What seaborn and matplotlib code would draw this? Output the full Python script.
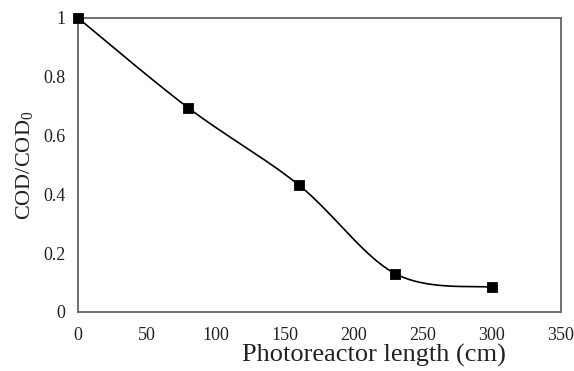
import numpy as np
import pandas as pd
import matplotlib
matplotlib.use("Agg")
import matplotlib.pyplot as plt
import seaborn as sns

# Data
length_cm = [0, 80, 160, 230, 300]
cod_ratio = [1.0, 0.694, 0.432, 0.130, 0.084]
x_ticks = [0, 50, 100, 150, 200, 250, 300, 350]
y_ticks = [0, 0.2, 0.4, 0.6, 0.8, 1.0]

sns.set_theme(style="white")
plt.rcParams['font.family'] = ['Liberation Serif', 'DejaVu Serif']
plt.rcParams['mathtext.fontset'] = 'custom'
plt.rcParams['mathtext.rm'] = 'Liberation Serif'

df = pd.DataFrame({"x": length_cm, "y": cod_ratio})

fig = plt.figure(figsize=(5.74, 3.71), dpi=100)
ax = fig.add_axes([78/574, 1-312/371, (561-78)/574, (312-18)/371])

# Excel-style smoothed line (cubic Bezier through the data points)
def smooth(xs, ys, n=40):
    P = np.column_stack([xs, ys]).astype(float)
    m = len(P)
    out = []
    for i in range(m - 1):
        p0 = P[i - 1] if i > 0 else P[i]
        p1 = P[i]
        p2 = P[i + 1]
        p3 = P[i + 2] if i + 2 < m else P[i + 1]
        c1 = p1 + (p2 - p0) / 6.0
        c2 = p2 - (p3 - p1) / 6.0
        t = np.linspace(0, 1, n)[:, None]
        seg = ((1 - t) ** 3) * p1 + 3 * ((1 - t) ** 2) * t * c1 + 3 * (1 - t) * t ** 2 * c2 + t ** 3 * p2
        out.append(seg if i == 0 else seg[1:])
    return np.vstack(out)

curve = smooth(length_cm, cod_ratio)
ax.plot(curve[:, 0], curve[:, 1], color="black", lw=1.2, zorder=2, clip_on=False)
sns.scatterplot(data=df, x="x", y="y", marker="s", s=55, color="black",
                edgecolor="black", ax=ax, zorder=3, clip_on=False, legend=False)

ax.set_xlim(0, 350)
ax.set_ylim(0, 1)
ax.set_xticks(x_ticks)
ax.set_yticks(y_ticks)
ax.set_xticklabels([f"{v:g}" for v in x_ticks])
ax.set_yticklabels([f"{v:g}" for v in y_ticks])
ax.tick_params(direction="in", length=5, width=1, color="#555555",
               labelsize=13, labelcolor="#222222")
ax.tick_params(axis="x", pad=11)
ax.tick_params(axis="y", pad=9)
for s in ax.spines.values():
    s.set_color("#666666")
    s.set_linewidth(1.3)
    s.set_visible(True)

ax.set_xlabel("Photoreactor length (cm)", fontsize=19, color="#222222")
ax.xaxis.label.set_va("top")
ax.xaxis.set_label_coords(0.612, -0.107)
ax.set_ylabel(r"COD/COD$_\mathregular{0}$", fontsize=16, color="#222222")
ax.yaxis.label.set_va("center")
ax.yaxis.set_label_coords(-0.11, 0.50)

fig.savefig("out.png", dpi=100)
